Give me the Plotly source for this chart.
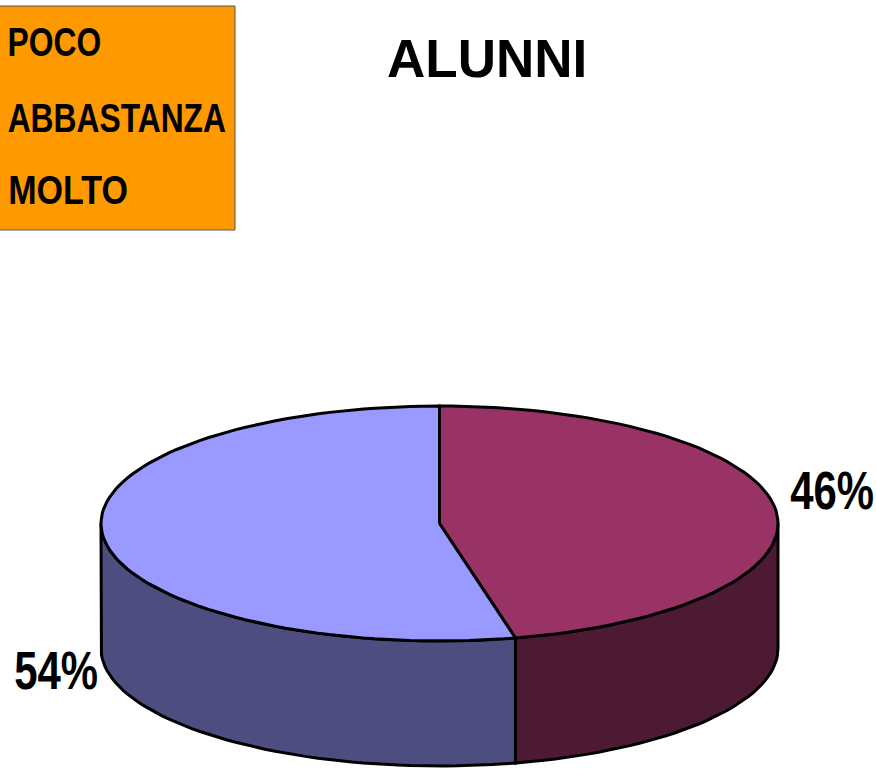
import numpy as np
import plotly.graph_objects as go

title = "ALUNNI"
legend_labels = ["POCO", "ABBASTANZA", "MOLTO"]
slice_values = [46.4, 53.6]
top_colors = ["#993366", "#9999FF"]
side_colors = ["#4D1A33", "#4D4D80"]

# pie geometry, in page pixels
cx, cy = 439.5, 523.5
rx, ry = 338.5, 117.5
depth = 125
outline = dict(color="black", width=3)

# no narrow font on the box, so squeeze the labels after plotly has drawn them
squeeze_js = """
document.body.style.margin = '0';
document.querySelectorAll('text.annotation-text').forEach(function (el) {
    if (el.textContent === 'ALUNNI') return;
    var factor = el.textContent === 'MOLTO' ? 0.83 : 0.775;
    el.setAttribute('textLength', el.getComputedTextLength() * factor);
    el.setAttribute('lengthAdjust', 'spacingAndGlyphs');
    el.parentNode.querySelectorAll('rect').forEach(function (r) { r.remove(); });
});
"""


def rim(start, stop, drop=0.0):
    t = np.radians(np.arange(start, stop, 2.0).tolist() + [stop])
    return cx + rx * np.sin(t), cy - ry * np.cos(t) + drop


fig = go.Figure()

angles = np.cumsum([0] + slice_values) / sum(slice_values) * 360

# side walls first, only the front half of the rim shows
for i in range(len(slice_values)):
    start, stop = max(angles[i], 90), min(angles[i + 1], 270)
    x_top, y_top = rim(start, stop)
    x_low, y_low = rim(start, stop, depth)
    fig.add_trace(
        go.Scatter(
            x=np.r_[x_top, x_low[::-1], x_top[0]],
            y=np.r_[y_top, y_low[::-1], y_top[0]],
            mode="lines",
            fill="toself",
            fillcolor=side_colors[i],
            line=outline,
        )
    )

for i in range(len(slice_values)):
    x_top, y_top = rim(angles[i], angles[i + 1])
    fig.add_trace(
        go.Scatter(
            x=np.r_[cx, x_top, cx],
            y=np.r_[cy, y_top, cy],
            mode="lines",
            fill="toself",
            fillcolor=top_colors[i],
            line=outline,
        )
    )

fig.add_shape(
    type="rect",
    x0=-2,
    x1=235,
    y0=6,
    y1=230,
    fillcolor="#FF9900",
    line=dict(color="#555555", width=1),
)

for label, x, y in zip(legend_labels, [54, 116.5, 67.5], [42, 118, 190]):
    fig.add_annotation(
        x=x,
        y=y,
        text=f"<b>{label}</b>",
        showarrow=False,
        font=dict(family="Liberation Sans, sans-serif", size=41, color="black"),
    )

fig.add_annotation(
    x=486.5,
    y=58,
    text=f"<b>{title}</b>",
    showarrow=False,
    font=dict(family="Liberation Sans, sans-serif", size=53, color="black"),
)

for value, x, y in zip(slice_values, [831.5, 55.5], [490, 670]):
    fig.add_annotation(
        x=x,
        y=y,
        text=f"<b>{value:.0f}%</b>",
        showarrow=False,
        font=dict(family="Liberation Sans, sans-serif", size=54, color="black"),
    )

fig.update_xaxes(visible=False, range=[0, 876], fixedrange=True)
fig.update_yaxes(visible=False, range=[769, 0], fixedrange=True)
fig.update_layout(
    width=876,
    height=769,
    margin=dict(l=0, r=0, t=0, b=0),
    paper_bgcolor="white",
    plot_bgcolor="white",
    showlegend=False,
    hovermode=False,
)

fig.write_html("out.html", post_script=squeeze_js, config={"displayModeBar": False})
